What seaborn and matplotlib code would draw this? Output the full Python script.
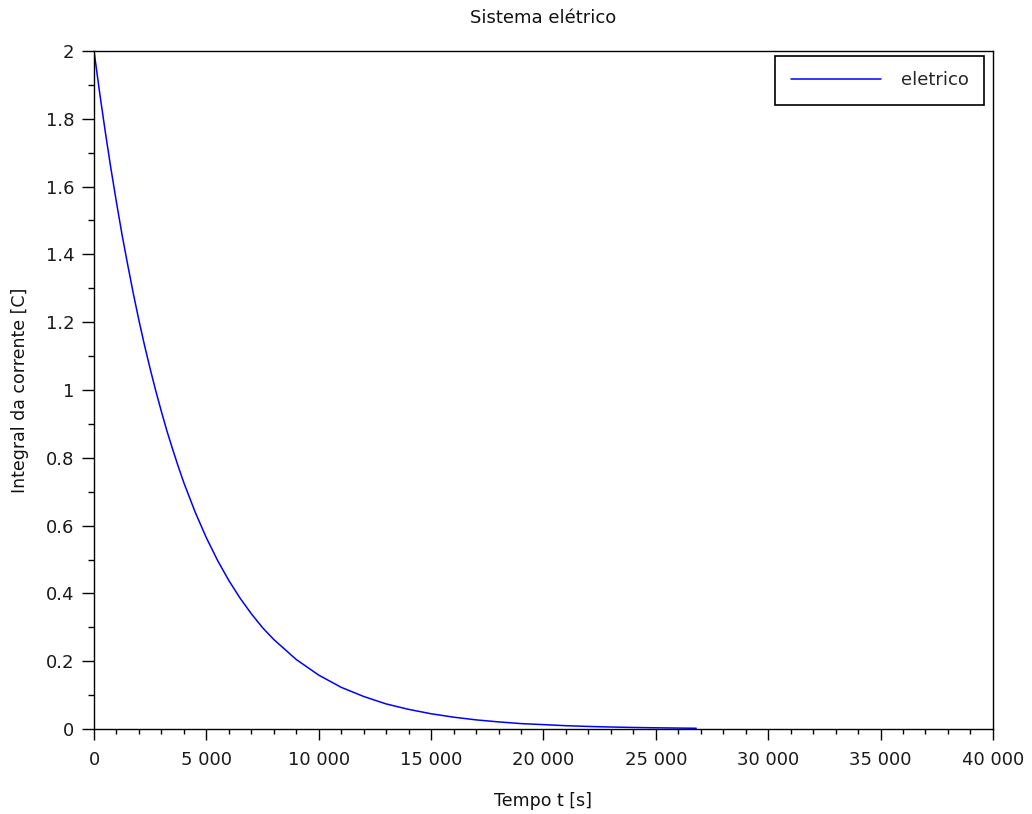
import seaborn as sns
import pandas as pd
import numpy as np
import matplotlib.pyplot as plt
from matplotlib.ticker import MultipleLocator, FuncFormatter

sns.set_theme(style='white')
plt.rcParams['font.family'] = ['DejaVu Sans']

# values
tempo = [0, 250, 500, 750, 1000, 1250, 1500, 1750, 2000, 2250, 2500, 2750,
         3000, 3250, 3500, 3750, 4000, 4500, 5000, 5500, 6000, 6500, 7000,
         7500, 8000, 9000, 10000, 11000, 12000, 13000, 14000, 15000,
         16000, 17000, 18000, 19000, 20000, 21000, 22000, 23000, 24000,
         25000, 26000, 26800]
carga = [2.0, 1.877, 1.762, 1.654, 1.553, 1.457, 1.369, 1.284, 1.205, 1.131,
         1.062, 0.997, 0.936, 0.878, 0.825, 0.774, 0.726, 0.640, 0.564,
         0.497, 0.438, 0.386, 0.340, 0.299, 0.264, 0.205, 0.159, 0.123,
         0.096, 0.074, 0.058, 0.045, 0.035, 0.027, 0.021, 0.016, 0.013,
         0.0098, 0.0076, 0.0059, 0.0046, 0.0036, 0.0028, 0.0022]

df = pd.DataFrame({'t': tempo, 'q': carga})

fig = plt.figure(figsize=(10.32, 8.14), dpi=100)
ax = fig.add_axes([0.0911, 0.1044, 0.871, 0.833])

sns.lineplot(x='t', y='q', data=df, color='#0000ff', linewidth=1.1,
             label='eletrico', ax=ax)

ax.set_xlim(0, 40000)
ax.set_ylim(0, 2)
ax.xaxis.set_major_locator(MultipleLocator(5000))
ax.xaxis.set_minor_locator(MultipleLocator(1000))
ax.yaxis.set_major_locator(MultipleLocator(0.2))
ax.yaxis.set_minor_locator(MultipleLocator(0.1))
ax.xaxis.set_major_formatter(FuncFormatter(lambda v, p: f'{int(round(v)):,}'.replace(',', ' ')))
ax.yaxis.set_major_formatter(FuncFormatter(lambda v, p: f'{v:.1f}'.rstrip('0').rstrip('.')))

for s in ax.spines.values():
    s.set_color('black')
    s.set_linewidth(1.0)
ax.tick_params(which='both', direction='out', color='black', width=1.0,
               bottom=True, left=True, top=False, right=False)
ax.tick_params(axis='x', which='major', length=7.7, pad=8, labelsize=13, labelcolor='#1a1a1a')
ax.tick_params(axis='x', which='minor', length=3.6)
ax.tick_params(axis='y', which='major', length=8.6, pad=5.5, labelsize=13, labelcolor='#1a1a1a')
ax.tick_params(axis='y', which='minor', length=4.3)

ax.set_title('Sistema elétrico', fontsize=13, pad=20, color='#111111')
ax.set_xlabel('Tempo t [s]', fontsize=12.5, labelpad=17, color='#111111')
ax.set_ylabel('Integral da corrente [C]', fontsize=12.5, labelpad=12, color='#111111')

leg = ax.legend(loc='upper right', bbox_to_anchor=(0.99, 0.9926), fontsize=13,
                fancybox=False, framealpha=1, edgecolor='black',
                handlelength=5.0, handletextpad=1.1,
                borderpad=0.85, borderaxespad=0)
leg.get_frame().set_linewidth(1.2)

plt.savefig('out.png', dpi=100, facecolor='white')
